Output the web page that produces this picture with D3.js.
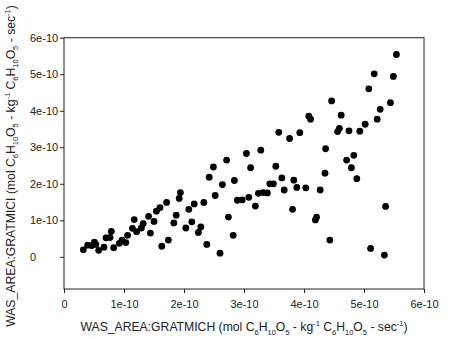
<!DOCTYPE html>
<html><head><meta charset="utf-8">
<script src="https://cdn.jsdelivr.net/npm/d3@7/dist/d3.min.js"></script>
<style>body{margin:0;background:#fff}svg{display:block}</style>
</head><body>
<svg id="c" width="456" height="339"></svg>
<script>
// values in units of 1e-10
const xVals = [0.322,0.394,0.461,0.506,0.53,0.578,0.667,0.70,0.767,0.789,0.828,0.922,0.967,1.03,1.06,1.14,1.17,1.21,1.29,1.32,1.41,1.44,1.50,1.54,1.60,1.63,1.71,1.74,1.83,1.87,1.92,1.94,2.03,2.08,2.13,2.17,2.24,2.28,2.33,2.38,2.42,2.49,2.52,2.60,2.64,2.71,2.74,2.82,2.84,2.89,2.97,3.04,3.08,3.11,3.19,3.24,3.28,3.32,3.39,3.43,3.49,3.53,3.58,3.63,3.67,3.76,3.81,3.83,3.88,3.93,4.03,4.08,4.11,4.19,4.21,4.27,4.35,4.36,4.43,4.46,4.56,4.59,4.62,4.71,4.75,4.79,4.83,4.88,4.93,5.02,5.08,5.11,5.17,5.22,5.27,5.34,5.36,5.44,5.49,5.54];
const yVals = [0.192,0.32,0.31,0.40,0.34,0.18,0.265,0.52,0.53,0.70,0.25,0.37,0.46,0.39,0.59,0.78,1.02,0.69,0.79,0.91,1.11,0.65,0.97,1.25,1.35,0.29,1.49,0.46,0.93,1.14,1.60,1.76,0.79,1.30,0.96,1.45,0.67,0.82,1.49,0.34,2.18,2.46,1.68,0.10,1.98,2.65,1.09,0.59,2.09,1.55,1.56,2.83,1.63,2.44,1.39,1.74,2.92,1.76,1.75,2.00,2.00,2.48,3.41,2.16,1.83,3.24,1.30,2.10,1.90,3.40,1.89,3.85,3.77,1.01,1.09,1.83,2.29,2.96,0.46,4.27,3.43,3.52,3.88,2.65,3.45,2.44,2.78,2.14,3.44,3.63,4.60,0.23,5.01,3.77,4.04,0.05,1.38,4.22,4.94,5.54];
const xTicks = [0,1,2,3,4,5,6];
const yTicks = [0,1,2,3,4,5,6];
const xTickLabels = ["0","1e-10","2e-10","3e-10","4e-10","5e-10","6e-10"];
const yTickLabels = ["0","1e-10","2e-10","3e-10","4e-10","5e-10","6e-10"];

const svg = d3.select("#c");
const L = 64, R = 424, T = 37.7, B = 289;
const x = d3.scaleLinear().domain([0,6]).range([L,R]);
const y = d3.scaleLinear().domain([-0.88,6]).range([B,T]);
const font = "'Liberation Sans', Arial, sans-serif";

// frame
svg.append("rect").attr("x",L).attr("y",T).attr("width",R-L).attr("height",B-T)
  .attr("fill","none").attr("stroke","#222").attr("stroke-width",1);

// x axis
const xa = svg.append("g").attr("transform",`translate(0,${B})`)
  .call(d3.axisBottom(x).tickValues(xTicks).tickSize(4).tickPadding(7)
    .tickFormat((d,i)=>xTickLabels[i]));
xa.select(".domain").remove();
xa.selectAll("line").attr("stroke","#222");
xa.selectAll("text").attr("font-family",font).attr("font-size",11).attr("fill","#222");

// y axis
const ya = svg.append("g").attr("transform",`translate(${L},0)`)
  .call(d3.axisLeft(y).tickValues(yTicks).tickSize(4).tickFormat((d,i)=>yTickLabels[i]));
ya.select(".domain").remove();
ya.selectAll("line").attr("stroke","#222");
ya.selectAll("text").attr("font-family",font).attr("font-size",11).attr("fill","#222")
  .attr("text-anchor","start").attr("x",30-L);

// points
svg.append("g").selectAll("circle").data(xVals.map((v,i)=>[v,yVals[i]])).join("circle")
  .attr("cx",d=>x(d[0])).attr("cy",d=>y(d[1])).attr("r",3.4).attr("fill","#000");

function title(g, main){
  const t = g.append("text").attr("font-family",font).attr("font-size",12.2).attr("fill","#222")
    .attr("text-anchor","middle");
  const parts = [[main+" (mol C",0],["6",1],["H",0],["10",1],["O",0],["5",1],[" - kg",0],["-1",2],[" C",0],["6",1],["H",0],["10",1],["O",0],["5",1],[" - sec",0],["-1",2],[")",0]];
  let prev = 0;
  parts.forEach(([s,k])=>{
    const off = k===1?3.5:(k===2?-5:0);
    const ts = t.append("tspan").text(s).attr("dy",off-prev);
    if(k) ts.attr("font-size",7.5);
    prev = off;
  });
  return t;
}
title(svg.append("g").attr("transform","translate(244,331)"),"WAS_AREA:GRATMICH");
title(svg.append("g").attr("transform","translate(14.5,166) rotate(-90)"),"WAS_AREA:GRATMICI");
</script>
</body></html>
